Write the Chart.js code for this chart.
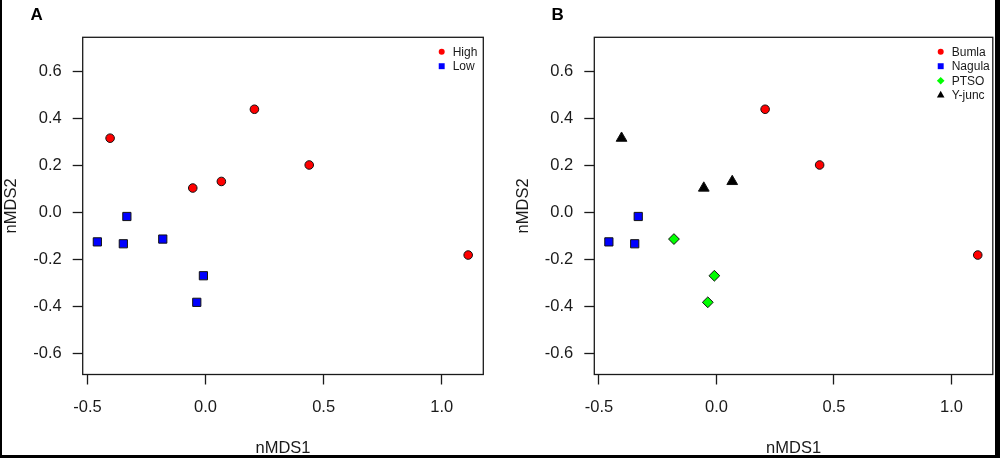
<!DOCTYPE html>
<html>
<head>
<meta charset="utf-8">
<script src="https://cdn.jsdelivr.net/npm/chart.js@4/dist/chart.umd.min.js"></script>
<style>
  html, body { margin: 0; padding: 0; background: #fff; }
  #wrap { position: relative; width: 1000px; height: 458px; overflow: hidden; }
  canvas { position: absolute; top: 0; }
  .edge { position: absolute; background: #000; }
</style>
</head>
<body>
<div id="wrap">
  <canvas id="panelA" width="500" height="458" style="left:0"></canvas>
  <canvas id="panelB" width="500" height="458" style="left:500px"></canvas>
  <div class="edge" style="left:0;top:0;width:2px;height:458px"></div>
  <div class="edge" style="right:0;top:0;width:5px;height:458px"></div>
  <div class="edge" style="left:0;bottom:0;width:1000px;height:3px"></div>
</div>
<script>
// site coordinates (nMDS1, nMDS2)
const bumlaX  = [0.207, 0.439, 1.112];
const bumlaY  = [0.440, 0.203, -0.180];
const yjuncX  = [-0.404, -0.054, 0.067];
const yjuncY  = [0.317, 0.105, 0.133];
const nagulaX = [-0.333, -0.458, -0.348];
const nagulaY = [-0.016, -0.124, -0.132];
const ptsoX   = [-0.181, -0.009, -0.037];
const ptsoY   = [-0.112, -0.268, -0.381];

const xTicks = [-0.5, 0.0, 0.5, 1.0];
const yTicks = [-0.6, -0.4, -0.2, 0.0, 0.2, 0.4, 0.6];

const FONT = '"Liberation Sans", Arial, Helvetica, sans-serif';
const INK = '#1a1a1a';

function pts(xs, ys) {
  return xs.map((x, i) => ({ x: x, y: ys[i] }));
}

function series(label, data, color, style, r, legendR) {
  return {
    label: label,
    data: data,
    backgroundColor: color,
    borderColor: '#111',
    borderWidth: 1,
    pointStyle: style,
    pointRadius: r,
    pointHoverRadius: r,
    legendRadius: legendR
  };
}

// box around plot area, panel letter and legend in the top right corner
const panelDecor = {
  id: 'panelDecor',
  afterDraw(chart, args, o) {
    const { ctx, chartArea: a } = chart;
    ctx.save();
    ctx.strokeStyle = INK;
    ctx.lineWidth = 1.3;
    ctx.strokeRect(a.left, a.top, a.right - a.left, a.bottom - a.top);

    ctx.fillStyle = '#000';
    ctx.font = 'bold 17px ' + FONT;
    ctx.textBaseline = 'middle';
    ctx.textAlign = 'left';
    ctx.fillText(o.letter, o.letterX, 15);

    ctx.font = '12px ' + FONT;
    chart.data.datasets.forEach((ds, i) => {
      const y = 51.7 + i * 14.5;
      ctx.fillStyle = ds.backgroundColor;
      Chart.helpers.drawPoint(ctx, {
        pointStyle: ds.pointStyle, radius: ds.legendRadius, rotation: 0, borderWidth: 0
      }, o.legendX, y);
      ctx.fillStyle = INK;
      ctx.fillText(ds.label, o.legendX + 11, y + 0.5);
    });
    ctx.restore();
  }
};

function makePanel(id, datasets, o) {
  return new Chart(document.getElementById(id), {
    type: 'scatter',
    data: { datasets: datasets },
    plugins: [panelDecor],
    options: {
      responsive: false,
      animation: false,
      events: [],
      layout: { padding: { left: o.padLeft, right: o.padRight, top: 37.3, bottom: 0 } },
      plugins: {
        legend: { display: false },
        tooltip: { enabled: false },
        panelDecor: { letter: o.letter, letterX: o.letterX, legendX: o.legendX }
      },
      scales: {
        x: {
          type: 'linear',
          min: -0.52,
          max: 1.176,
          afterBuildTicks: s => { s.ticks = xTicks.map(v => ({ value: v })); },
          afterFit: s => { s.height = 83.5; },
          border: { display: false },
          grid: { drawOnChartArea: false, tickLength: 10, tickColor: INK, tickWidth: 1.3 },
          ticks: {
            padding: 13, color: INK, maxRotation: 0,
            font: { family: FONT, size: 16.5 },
            callback: v => v.toFixed(1)
          },
          title: {
            display: true, text: 'nMDS1', color: INK,
            font: { family: FONT, size: 16.5 },
            padding: { top: 0, bottom: 0 }
          }
        },
        y: {
          type: 'linear',
          min: -0.688,
          max: 0.746,
          afterBuildTicks: s => { s.ticks = yTicks.map(v => ({ value: v })); },
          afterFit: s => { s.width = 82.7; },
          border: { display: false },
          grid: { drawOnChartArea: false, tickLength: 10, tickColor: INK, tickWidth: 1.3 },
          ticks: {
            padding: 11, color: INK,
            font: { family: FONT, size: 16.5 },
            callback: v => v.toFixed(1)
          },
          title: {
            display: true, text: 'nMDS2', color: INK,
            font: { family: FONT, size: 16.5 },
            padding: { top: 1.5, bottom: 0 }
          }
        }
      }
    }
  });
}

makePanel('panelA', [
  series('High', pts(bumlaX.concat(yjuncX), bumlaY.concat(yjuncY)), '#ff0000', 'circle', 4.3, 3),
  series('Low', pts(nagulaX.concat(ptsoX), nagulaY.concat(ptsoY)), '#0000ff', 'rect', 5.8, 4.2)
], { padLeft: 0, padRight: 16.7, letter: 'A', letterX: 30.5, legendX: 441.7 });

makePanel('panelB', [
  series('Bumla', pts(bumlaX, bumlaY), '#ff0000', 'circle', 4.3, 3),
  series('Nagula', pts(nagulaX, nagulaY), '#0000ff', 'rect', 5.8, 4.2),
  series('PTSO', pts(ptsoX, ptsoY), '#00ff00', 'rectRot', 5.4, 3.8),
  series('Y-junc', pts(yjuncX, yjuncY), '#000000', 'triangle', 6.2, 4.4)
], { padLeft: 11.6, padRight: 5.7, letter: 'B', letterX: 51.5, legendX: 440.7 });
</script>
</body>
</html>
